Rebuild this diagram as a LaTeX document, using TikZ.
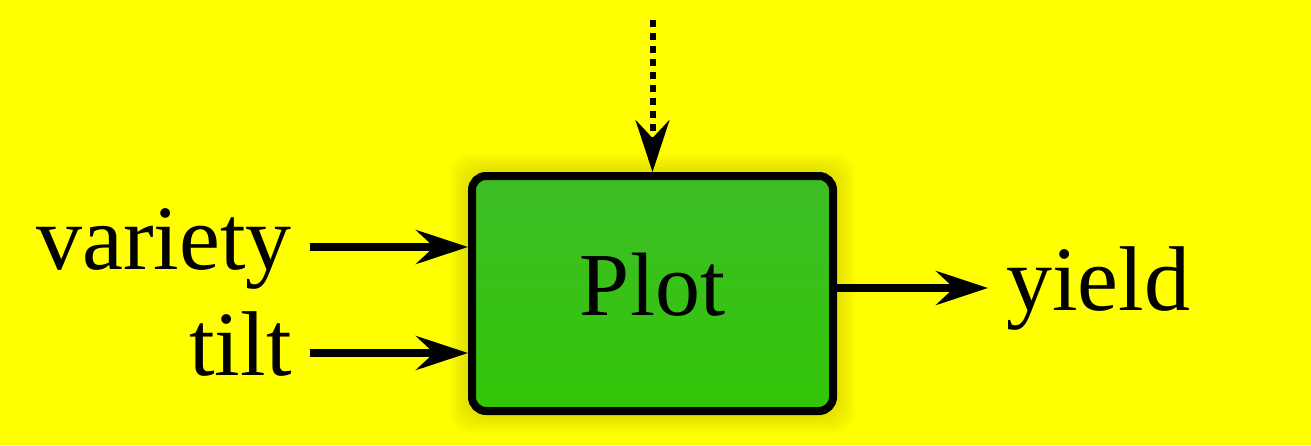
\documentclass[tikz,border=0pt]{standalone}
\usepackage{fontspec}
\setmainfont{Liberation Serif}
\usetikzlibrary{arrows.meta,positioning}

\definecolor{bgyellow}{RGB}{255,255,0}
\definecolor{plotgreen}{RGB}{50,198,8}
\definecolor{plottop}{RGB}{62,190,38}
\definecolor{glow}{RGB}{170,160,0}

\tikzset{
  block/.style={draw=black, line width=4pt, rounded corners=7pt,
    top color=plottop, bottom color=plotgreen,
    minimum width=180.5pt, minimum height=117.5pt,
    font=\fontsize{45}{54}\selectfont, text height=31.5pt, text depth=9.9pt},
  lbl/.style={font=\fontsize{46}{54}\selectfont, text height=32pt, text depth=10pt, inner sep=9pt},
  flow/.style={line width=3.6pt, -{Stealth[length=26pt,width=17pt,inset=9pt]}},
  knob/.style={line width=3pt, dash pattern=on 3.5pt off 3pt, -{Stealth[length=26pt,width=17pt,inset=9pt]}},
}

\begin{document}
\begin{tikzpicture}[x=0.5pt,y=-0.5pt]
        % Background
        \fill[bgyellow] (0,0) rectangle (1311,445);
        \useasboundingbox (0,0) rectangle (1311,445);

        % Soft glow round the box
        \foreach \g in {3,6,...,18}
          \fill[glow, opacity=0.05, rounded corners=10pt] ({468-\g},{172-\g}) rectangle ({837+\g},{415+\g});

        % Plot block
        \node[block] (plot) at (652.5,293.5) {Plot};

        % Inputs and output
        \node[lbl, anchor=east] (var) at (310,247) {variety};
        \node[lbl, anchor=east] (tilt) at (310,353) {tilt};
        \node[lbl, anchor=west] (yld) at (988,288) {yield};
        \coordinate (top) at (652.5,20);

        \draw[flow] (var.east) -- (var.east -| plot.west);
        \draw[flow] (tilt.east) -- (tilt.east -| plot.west);
        \draw[flow] (plot.east |- yld.west) -- (yld.west);
        \draw[knob] (top) -- (plot.north);
    \end{tikzpicture}
\end{document}
